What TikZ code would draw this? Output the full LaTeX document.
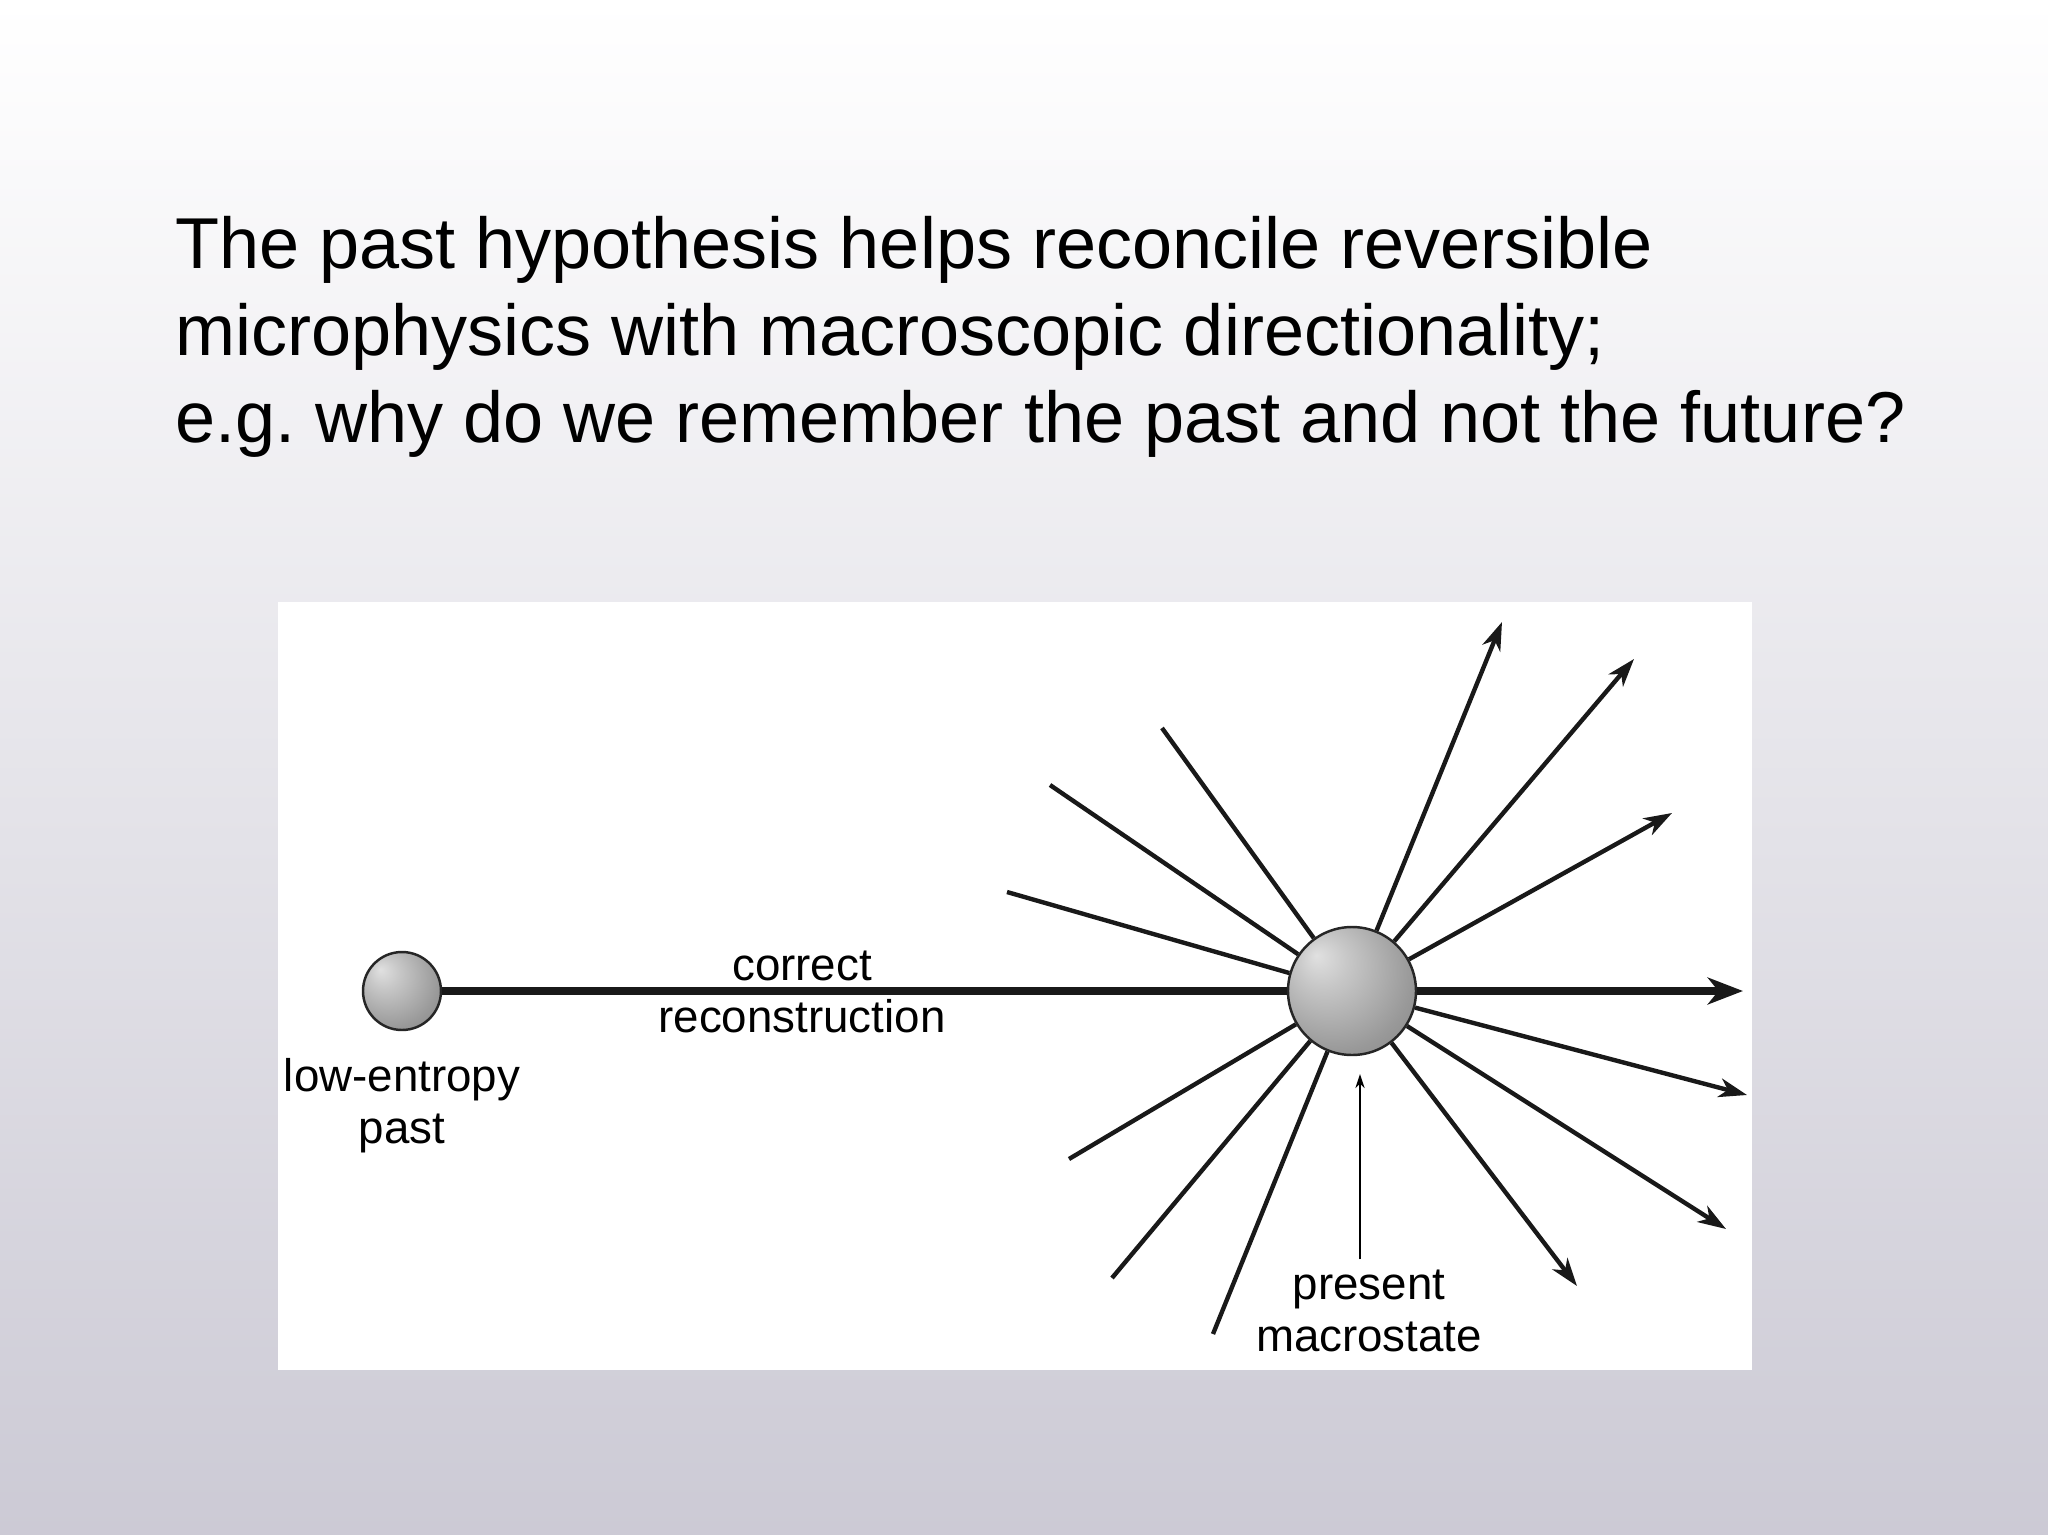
\documentclass[tikz,border=0pt]{standalone}
\usepackage{fontspec}
\setmainfont{Liberation Sans}
\usetikzlibrary{arrows.meta}

\definecolor{bgbottom}{RGB}{204,202,213}
\pgfdeclareradialshading{sphere}{\pgfpoint{-14bp}{14bp}}{color(0bp)=(black!12); color(10bp)=(black!22); color(30bp)=(black!40); color(50bp)=(black!54); color(58bp)=(black!58)}

\tikzset{
  ball/.style={circle, draw=black!85, line width=0.7pt, shading=sphere, inner sep=0pt},
  ray/.style={line width=1.25pt, black!90},
  rayarrow/.style={ray, -{Stealth[length=8pt, width=5.4pt, inset=2.4pt]}},
  mainline/.style={line width=2.1pt, black!90},
  lbl/.style={font=\fontsize{13}{14.8}\selectfont, align=center, inner sep=0pt}
}

\begin{document}
\begin{tikzpicture}

  \useasboundingbox (0,0) rectangle (20.48,-15.35);
  \shade[top color=white, bottom color=bgbottom] (0,0) rectangle (20.48,-15.35);

  \node[anchor=north west, align=left, inner sep=0pt, font=\fontsize{20.5}{24.75}\selectfont] (title) at (1.745,-2.154)
    {The past hypothesis helps reconcile reversible\\
     microphysics with macroscopic directionality;\\
     e.g.\ why do we remember the past and not the future?};

  \fill[white] (2.78,-6.02) rectangle (17.52,-13.70);

  \node[ball, minimum size=0.78cm] (past) at (4.02,-9.91) {};
  \node[ball, minimum size=1.28cm] (present) at (13.52,-9.91) {};

  \coordinate (tip1) at (15.02,-6.22);
  \coordinate (tip2) at (16.34,-6.59);
  \coordinate (tip3) at (16.72,-8.13);
  \coordinate (tipmain) at (17.43,-9.91);
  \coordinate (tip5) at (17.47,-10.95);
  \coordinate (tip6) at (17.26,-12.29);
  \coordinate (tip7) at (15.77,-12.86);

  \coordinate (back1) at (11.62,-7.28);
  \coordinate (back2) at (10.50,-7.85);
  \coordinate (back3) at (10.07,-8.92);
  \coordinate (back4) at (10.69,-11.59);
  \coordinate (back5) at (11.12,-12.78);
  \coordinate (back6) at (12.13,-13.34);

  \draw[mainline] (past) -- (present);
  \draw[mainline, -{Stealth[length=10pt, width=7.6pt, inset=3pt]}] (present) -- (tipmain);

  \draw[rayarrow] (present) -- (tip1);
  \draw[rayarrow] (present) -- (tip2);
  \draw[rayarrow] (present) -- (tip3);
  \draw[rayarrow] (present) -- (tip5);
  \draw[rayarrow] (present) -- (tip6);
  \draw[rayarrow] (present) -- (tip7);

  \draw[ray] (back1) -- (present);
  \draw[ray] (back2) -- (present);
  \draw[ray] (back3) -- (present);
  \draw[ray] (back4) -- (present);
  \draw[ray] (back5) -- (present);
  \draw[ray] (back6) -- (present);

  \node[lbl] (recon) at (8.02,-9.92) {correct\\reconstruction};
  \node[lbl] (lowpast) at (4.02,-11.06) {low-entropy\\past};
  \node[lbl] (macro) at (13.69,-13.11) {present\\macrostate};

  \coordinate (pointer) at (13.60,-10.74);
  \draw[line width=0.5pt, -{Stealth[length=4pt, width=2.6pt]}] (pointer |- macro.north) ++(0,0.1) -- (pointer);

\end{tikzpicture}
\end{document}
